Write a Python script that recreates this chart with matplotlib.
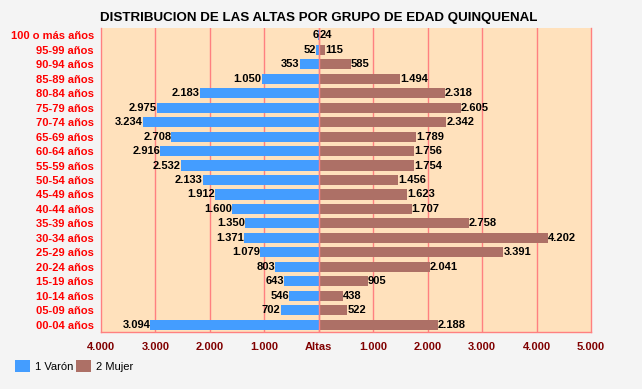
import matplotlib

matplotlib.use("Agg")
import matplotlib.pyplot as plt
from matplotlib.patches import Patch
from matplotlib.ticker import FixedLocator

plt.rcParams["font.family"] = ["Liberation Sans", "DejaVu Sans"]

AGE_GROUPS = [
    "100 o más años", "95-99 años", "90-94 años", "85-89 años", "80-84 años",
    "75-79 años", "70-74 años", "65-69 años", "60-64 años", "55-59 años",
    "50-54 años", "45-49 años", "40-44 años", "35-39 años", "30-34 años",
    "25-29 años", "20-24 años", "15-19 años", "10-14 años", "05-09 años",
    "00-04 años",
]
MEN = [6, 52, 353, 1050, 2183, 2975, 3234, 2708, 2916, 2532, 2133,
       1912, 1600, 1350, 1371, 1079, 803, 643, 546, 702, 3094]
WOMEN = [24, 115, 585, 1494, 2318, 2605, 2342, 1789, 1756, 1754, 1456,
         1623, 1707, 2758, 4202, 3391, 2041, 905, 438, 522, 2188]
X_TICKS = [-4000, -3000, -2000, -1000, 0, 1000, 2000, 3000, 4000, 5000]
X_TICK_LABELS = ["4.000", "3.000", "2.000", "1.000", "Altas",
                 "1.000", "2.000", "3.000", "4.000", "5.000"]

TITLE = "DISTRIBUCION DE LAS ALTAS POR GRUPO DE EDAD QUINQUENAL"
BLUE = "#449DFF"
BROWN = "#AD7066"
GRID_RED = "#FF8080"


def fmt(value: int) -> str:
    return f"{value:,}".replace(",", ".")


fig = plt.figure(figsize=(6.42, 3.89), dpi=100, facecolor="#F4F4F4")
ax = fig.add_axes([101 / 642, 57 / 389, 490 / 642, 304 / 389])
ax.set_facecolor("#FFE1BC")

rows = list(range(len(AGE_GROUPS)))
ax.barh(rows, [-v for v in MEN], height=0.7, color=BLUE, zorder=2)
ax.barh(rows, WOMEN, height=0.7, color=BROWN, zorder=2)

for y, m, w in zip(rows, MEN, WOMEN):
    ax.text(-m, y, fmt(m), ha="right", va="center", fontsize=8,
            fontweight="bold", color="black", zorder=3)
    ax.text(w, y, fmt(w), ha="left", va="center", fontsize=8,
            fontweight="bold", color="black", zorder=3)

ax.set_xlim(-4000, 5000)
ax.set_ylim(len(AGE_GROUPS) - 0.5, -0.5)
ax.xaxis.set_major_locator(FixedLocator(X_TICKS))
ax.set_xticklabels(X_TICK_LABELS)
ax.set_yticks(rows)
ax.set_yticklabels(AGE_GROUPS)
ax.tick_params(axis="both", length=0)
ax.tick_params(axis="x", pad=7, labelsize=8, labelcolor="#800000")
ax.tick_params(axis="y", pad=5, labelsize=8, labelcolor="#FF0000")
for lbl in ax.get_xticklabels() + ax.get_yticklabels():
    lbl.set_fontweight("bold")

for x in X_TICKS[1:-1]:
    ax.axvline(x, color=GRID_RED, linewidth=1, zorder=1)
ax.axvline(0, color=GRID_RED, linewidth=1, zorder=2.5)

ax.spines["top"].set_visible(False)
for side in ("left", "right", "bottom"):
    ax.spines[side].set_color(GRID_RED)
    ax.spines[side].set_linewidth(1)

fig.text(319 / 642, 1 - 18 / 389, TITLE, ha="center", va="center",
         fontsize=9.6, fontweight="bold")

handles = [Patch(facecolor=BLUE, label="1 Varón"),
           Patch(facecolor=BROWN, label="2 Mujer")]
fig.legend(handles=handles, loc="center left", bbox_to_anchor=(15 / 642, 1 - 366 / 389),
           ncol=2, frameon=False, fontsize=8, handlelength=1.35,
           handleheight=1.35, handletextpad=0.45, columnspacing=0.2,
           borderaxespad=0, borderpad=0)

fig.savefig("out.png", dpi=100, facecolor=fig.get_facecolor())
